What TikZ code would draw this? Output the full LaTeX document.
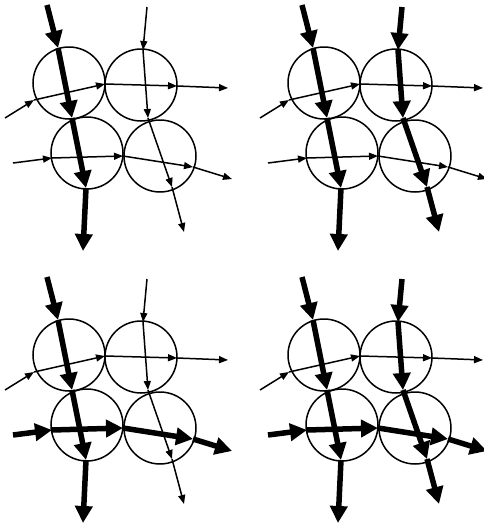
\documentclass[tikz,border=0pt]{standalone}
\usetikzlibrary{arrows.meta}
\tikzset{
  cell/.style={circle, draw, line width=1.5pt, minimum size=72pt, inner sep=0pt},
  thinflow/.style={line width=1.5pt, -{Triangle[length=9pt,width=7pt]}},
  thickflow/.style={line width=5.5pt, -{Triangle[length=17pt,width=17pt]}},
}
\newcommand\flowpanel[5]{%
  \begin{scope}[shift={(#2,#3)}]
    \node[cell] (tl#1) at (69,83) {};
    \node[cell] (tr#1) at (141,85) {};
    \node[cell] (bl#1) at (87,153) {};
    \node[cell] (br#1) at (160,156) {};
    % left vertical flow
    \coordinate (va0#1) at (47,5);
    \coordinate (va1#1) at (58,48);
    \coordinate (va2#1) at (72,118);
    \coordinate (va3#1) at (86,188);
    \coordinate (va4#1) at (83,251);
    % right vertical flow
    \coordinate (vb0#1) at (147,7);
    \coordinate (vb1#1) at (143,50);
    \coordinate (vb2#1) at (148,118);
    \coordinate (vb3#1) at (172,187);
    \coordinate (vb4#1) at (184,232);
    % upper horizontal flow
    \coordinate (ha0#1) at (5,118);
    \coordinate (ha1#1) at (34,100);
    \coordinate (ha2#1) at (105,84);
    \coordinate (ha3#1) at (177,86);
    \coordinate (ha4#1) at (228,88);
    % lower horizontal flow
    \coordinate (hb0#1) at (13,163);
    \coordinate (hb1#1) at (52,158);
    \coordinate (hb2#1) at (123,156);
    \coordinate (hb3#1) at (193,167);
    \coordinate (hb4#1) at (232,179);
  \end{scope}
  \foreach \i/\j in {0/1,1/2,2/3,3/4}{
    \draw[thinflow] (ha\i#1) -- (ha\j#1);
    \draw[#5] (hb\i#1) -- (hb\j#1);
    \draw[#4] (vb\i#1) -- (vb\j#1);
    \draw[thickflow] (va\i#1) -- (va\j#1);
  }
}
\begin{document}
\begin{tikzpicture}[x=1pt,y=-1pt]
  \useasboundingbox (0,0) rectangle (484,523);
  \flowpanel{a}{0}{0}{thinflow}{thinflow}
  \flowpanel{b}{255}{0}{thickflow}{thinflow}
  \flowpanel{c}{0}{272}{thinflow}{thickflow}
  \flowpanel{d}{255}{272}{thickflow}{thickflow}
\end{tikzpicture}
\end{document}
